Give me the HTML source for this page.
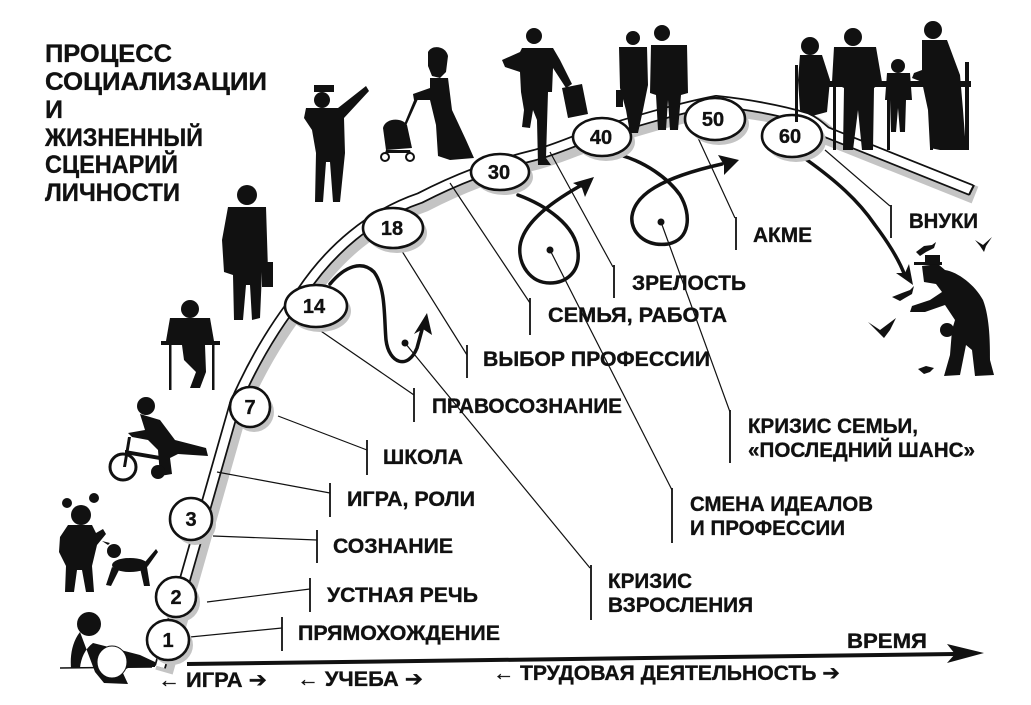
<!DOCTYPE html>
<html><head><meta charset="utf-8"><style>
html,body{margin:0;padding:0;background:#fff;}
svg{display:block;}
text{font-family:"Liberation Sans","DejaVu Sans",sans-serif;font-weight:bold;fill:#111;stroke:#111;stroke-width:0.35;}
</style></head><body>
<svg width="1031" height="705" viewBox="0 0 1031 705" xmlns="http://www.w3.org/2000/svg">
<rect width="1031" height="705" fill="#fff"/>

<!-- Title -->
<g font-size="25">
<text x="45" y="62" textLength="127" lengthAdjust="spacingAndGlyphs">ПРОЦЕСС</text>
<text x="45" y="90" textLength="222" lengthAdjust="spacingAndGlyphs">СОЦИАЛИЗАЦИИ</text>
<text x="45" y="118">И</text>
<text x="45" y="146" textLength="158" lengthAdjust="spacingAndGlyphs">ЖИЗНЕННЫЙ</text>
<text x="45" y="173" textLength="133" lengthAdjust="spacingAndGlyphs">СЦЕНАРИЙ</text>
<text x="45" y="201" textLength="135" lengthAdjust="spacingAndGlyphs">ЛИЧНОСТИ</text>
</g>

<!-- Band shading -->
<path d="M160,667 L235,404 C252,365 275,325 302,292 C330,250 370,215 420,198 C455,180 490,166 535,155 C560,148 575,140 600,132 C640,120 680,108 716,101 C745,104 780,110 806,118 C815,122 820,127 826,132 L971,190" fill="none" stroke="#c4c4c4" stroke-width="18" transform="translate(4,5)"/>
<!-- Band -->
<path d="M160,667 L235,404 C252,365 275,325 302,292 C330,250 370,215 420,198 C455,180 490,166 535,155 C560,148 575,140 600,132 C640,120 680,108 716,101 C745,104 780,110 806,118 C815,122 820,127 826,132 L971,190" fill="none" stroke="#111" stroke-width="12"/>
<path d="M160,667 L235,404 C252,365 275,325 302,292 C330,250 370,215 420,198 C455,180 490,166 535,155 C560,148 575,140 600,132 C640,120 680,108 716,101 C745,104 780,110 806,118 C815,122 820,127 826,132 L971,190" fill="none" stroke="#fff" stroke-width="8.5"/>
<line x1="974" y1="185" x2="969" y2="195" stroke="#111" stroke-width="2"/>

<!-- Time axis -->
<line x1="187" y1="664" x2="955" y2="654" stroke="#111" stroke-width="4"/>
<polygon points="984,653 947,644 955,654 947,663" fill="#111"/>
<line x1="60" y1="668" x2="152" y2="667" stroke="#111" stroke-width="1.5"/>

<!-- Connectors -->
<g stroke="#111" stroke-width="1.2" fill="none">
<line x1="190" y1="637" x2="282" y2="628"/>
<line x1="207" y1="602" x2="310" y2="589"/>
<line x1="213" y1="536" x2="317" y2="540"/>
<line x1="217" y1="472" x2="330" y2="493"/>
<line x1="278" y1="416" x2="367" y2="450"/>
<line x1="315" y1="327" x2="414" y2="395"/>
<line x1="400" y1="248" x2="467" y2="355"/>
<line x1="450" y1="183" x2="530" y2="303"/>
<line x1="550" y1="152" x2="613" y2="267"/>
<line x1="693" y1="127" x2="735" y2="218"/>
<line x1="825" y1="150" x2="890" y2="206"/>
<line x1="405" y1="343" x2="590" y2="568"/>
<line x1="550" y1="250" x2="672" y2="490"/>
<line x1="661" y1="222" x2="730" y2="412"/>
</g>
<g stroke="#111" stroke-width="1.8">
<line x1="282" y1="617" x2="282" y2="651"/>
<line x1="310" y1="578" x2="310" y2="612"/>
<line x1="317" y1="530" x2="317" y2="563"/>
<line x1="330" y1="483" x2="330" y2="517"/>
<line x1="367" y1="440" x2="367" y2="475"/>
<line x1="414" y1="388" x2="414" y2="422"/>
<line x1="467" y1="345" x2="467" y2="378"/>
<line x1="530" y1="298" x2="530" y2="335"/>
<line x1="614" y1="265" x2="614" y2="298"/>
<line x1="736" y1="217" x2="736" y2="250"/>
<line x1="891" y1="205" x2="891" y2="238"/>
<line x1="591" y1="565" x2="591" y2="620"/>
<line x1="672" y1="488" x2="672" y2="543"/>
<line x1="730" y1="410" x2="730" y2="463"/>
</g>

<!-- Loops -->
<g fill="none" stroke="#111" stroke-width="3.5" stroke-linecap="round">
<path d="M330,284 C345,266 362,260 374,272 C386,288 384,318 386,340 C389,364 408,370 417,348 L423,326"/>
<path d="M518,195 C545,205 576,225 578,252 C580,272 566,283 550,283 C530,283 518,264 520,246 C523,224 548,204 580,186"/>
<path d="M620,155 C645,162 668,178 680,195 C692,215 690,240 668,244 C645,247 630,232 632,216 C635,195 660,178 722,164"/>
<path d="M807,160 C835,180 858,200 875,225 C890,245 900,262 905,276"/>
</g>
<g fill="#111">
<polygon points="427,313 414,334 423,329 432,335"/>
<polygon points="594,177 573,183 582,188 585,197"/>
<polygon points="739,160 718,155 724,165 724,175"/>
<polygon points="913,285 896,273 905,273 909,264"/>
<circle cx="405" cy="343" r="3.5"/>
<circle cx="550" cy="250" r="3.5"/>
<circle cx="661" cy="222" r="3.5"/>
</g>

<!-- Ellipse shadows -->
<g fill="#c4c4c4">
<ellipse cx="172" cy="645" rx="21" ry="20"/>
<ellipse cx="180" cy="602" rx="20" ry="20"/>
<ellipse cx="195" cy="524" rx="21" ry="21"/>
<ellipse cx="254" cy="412" rx="20" ry="20"/>
<ellipse cx="320" cy="311" rx="31" ry="21"/>
<ellipse cx="397" cy="233" rx="30" ry="20"/>
<ellipse cx="504" cy="177" rx="29" ry="18"/>
<ellipse cx="606" cy="142" rx="29" ry="19"/>
<ellipse cx="719" cy="124" rx="30" ry="21"/>
<ellipse cx="796" cy="141" rx="30" ry="21"/>
</g>
<g fill="#fff" stroke="#111" stroke-width="2.6">
<ellipse cx="168" cy="640" rx="21" ry="20"/>
<ellipse cx="176" cy="597" rx="20" ry="20"/>
<ellipse cx="191" cy="519" rx="21" ry="21"/>
<ellipse cx="250" cy="407" rx="20" ry="20"/>
<ellipse cx="316" cy="306" rx="31" ry="21"/>
<ellipse cx="393" cy="228" rx="30" ry="20"/>
<ellipse cx="500" cy="172" rx="29" ry="18"/>
<ellipse cx="602" cy="137" rx="29" ry="19"/>
<ellipse cx="715" cy="119" rx="30" ry="21"/>
<ellipse cx="792" cy="136" rx="30" ry="21"/>
</g>
<g font-size="20" text-anchor="middle">
<text x="168" y="647">1</text>
<text x="176" y="604">2</text>
<text x="191" y="526">3</text>
<text x="250" y="414">7</text>
<text x="314" y="313">14</text>
<text x="392" y="235">18</text>
<text x="499" y="179">30</text>
<text x="601" y="144">40</text>
<text x="713" y="126">50</text>
<text x="790" y="143">60</text>
</g>

<!-- Labels -->
<g font-size="21">
<text x="298" y="640" textLength="202" lengthAdjust="spacingAndGlyphs">ПРЯМОХОЖДЕНИЕ</text>
<text x="327" y="602" textLength="151" lengthAdjust="spacingAndGlyphs">УСТНАЯ РЕЧЬ</text>
<text x="333" y="553" textLength="120" lengthAdjust="spacingAndGlyphs">СОЗНАНИЕ</text>
<text x="347" y="506" textLength="128" lengthAdjust="spacingAndGlyphs">ИГРА, РОЛИ</text>
<text x="383" y="464" textLength="80" lengthAdjust="spacingAndGlyphs">ШКОЛА</text>
<text x="432" y="413" textLength="190" lengthAdjust="spacingAndGlyphs">ПРАВОСОЗНАНИЕ</text>
<text x="483" y="366" textLength="227" lengthAdjust="spacingAndGlyphs">ВЫБОР ПРОФЕССИИ</text>
<text x="548" y="322" textLength="179" lengthAdjust="spacingAndGlyphs">СЕМЬЯ, РАБОТА</text>
<text x="632" y="290" textLength="114" lengthAdjust="spacingAndGlyphs">ЗРЕЛОСТЬ</text>
<text x="753" y="242" textLength="59" lengthAdjust="spacingAndGlyphs">АКМЕ</text>
<text x="909" y="228" textLength="69" lengthAdjust="spacingAndGlyphs">ВНУКИ</text>
<text x="748" y="433" textLength="170" lengthAdjust="spacingAndGlyphs">КРИЗИС СЕМЬИ,</text>
<text x="748" y="457" textLength="227" lengthAdjust="spacingAndGlyphs">«ПОСЛЕДНИЙ ШАНС»</text>
<text x="690" y="511" textLength="183" lengthAdjust="spacingAndGlyphs">СМЕНА ИДЕАЛОВ</text>
<text x="690" y="535" textLength="155" lengthAdjust="spacingAndGlyphs">И ПРОФЕССИИ</text>
<text x="608" y="588" textLength="84" lengthAdjust="spacingAndGlyphs">КРИЗИС</text>
<text x="608" y="612" textLength="145" lengthAdjust="spacingAndGlyphs">ВЗРОСЛЕНИЯ</text>
<text x="847" y="648" textLength="80" lengthAdjust="spacingAndGlyphs">ВРЕМЯ</text>
<text x="493" y="680" textLength="347" lengthAdjust="spacingAndGlyphs">← ТРУДОВАЯ ДЕЯТЕЛЬНОСТЬ ➔</text>
<text x="158" y="687" textLength="109" lengthAdjust="spacingAndGlyphs">← ИГРА ➔</text>
<text x="297" y="686" textLength="126" lengthAdjust="spacingAndGlyphs">← УЧЕБА ➔</text>
</g>

<!-- Silhouettes -->
<g fill="#111">
<!-- Baby -->
<circle cx="89" cy="624" r="12"/>
<path d="M80,632 C72,642 70,656 71,668 L80,668 C81,658 85,649 93,643 L140,655 L155,662 L155,667 L130,667 L122,671 L128,684 L104,683 L95,672 Z"/>
<ellipse cx="112" cy="662" rx="15" ry="16" fill="#fff" stroke="#111" stroke-width="1"/>
<!-- Girl -->
<circle cx="81" cy="515" r="10"/>
<circle cx="67" cy="503" r="5"/>
<circle cx="94" cy="498" r="5"/>
<path d="M68,525 L92,525 L96,533 L103,529 L106,534 L97,545 L92,566 L94,592 L86,592 L82,570 L77,570 L74,592 L65,592 L66,566 L59,552 L60,537 Z"/>
<!-- Dog -->
<ellipse cx="130" cy="565" rx="18" ry="7"/>
<circle cx="114" cy="551" r="7"/>
<path d="M108,545 L102,541 L110,543 Z"/>
<path d="M145,562 L156,549 L158,552 L148,566 Z"/>
<path d="M112,567 L106,585 L111,586 L119,570 Z M140,568 L144,586 L150,586 L147,567 Z"/>
<!-- Tricycle kid -->
<circle cx="146" cy="406" r="9"/>
<path d="M140,414 L160,420 L175,440 L206,448 L208,456 L178,454 L170,458 L172,474 L160,476 L158,450 L148,440 L132,437 L128,433 L145,430 Z"/>
<circle cx="123" cy="467" r="13" fill="none" stroke="#111" stroke-width="3"/>
<circle cx="158" cy="472" r="7"/>
<path d="M123,467 L128,437 L131,437 L126,467 Z M125,450 L160,456 L160,460 L125,454 Z"/>
<!-- Seated person at desk -->
<circle cx="190" cy="309" r="9"/>
<path d="M170,318 L210,318 L214,341 L166,341 Z"/>
<rect x="161" y="341" width="59" height="4"/>
<rect x="169" y="344" width="2.5" height="46"/>
<rect x="212" y="344" width="2.5" height="46"/>
<path d="M182,345 L205,345 L206,372 L200,388 L190,388 L196,372 L184,360 Z"/>
<!-- Man with briefcase -->
<circle cx="247" cy="195" r="10"/>
<path d="M228,207 L266,207 L268,270 L262,272 L260,318 L252,320 L250,285 L246,285 L243,320 L234,320 L233,275 L224,272 L222,240 Z"/>
<rect x="262" y="262" width="11" height="25"/>
<!-- Policeman -->
<rect x="314" y="85" width="20" height="7"/>
<circle cx="322" cy="100" r="8"/>
<path d="M312,108 L338,108 L366,86 L369,91 L344,118 L345,153 L340,202 L333,202 L330,162 L326,162 L323,202 L315,202 L316,153 L312,130 L304,118 L306,108 Z"/>
<!-- Woman with stroller -->
<path d="M428,52 C432,44 446,46 448,56 L446,72 L440,78 L432,76 L428,66 Z"/>
<path d="M430,78 L448,78 L452,110 L466,140 L474,158 L450,160 L438,156 L436,125 L430,100 L414,100 L413,94 L430,88 Z"/>
<path d="M415,98 L403,127 L405,128 L418,99 Z"/>
<path d="M383,128 C385,118 402,117 407,125 L412,148 L386,150 Z"/>
<circle cx="385" cy="157" r="4" fill="#fff" stroke="#111" stroke-width="2"/>
<circle cx="410" cy="157" r="4" fill="#fff" stroke="#111" stroke-width="2"/>
<path d="M386,150 L410,150 L411,153 L385,153 Z"/>
<!-- Running businessman -->
<circle cx="534" cy="36" r="8"/>
<path d="M522,48 L553,48 L560,60 L572,84 L566,88 L553,68 L552,92 L548,92 L546,158 L551,165 L538,165 L537,120 L533,110 L530,128 L522,127 L524,110 L521,92 L520,72 L505,67 L502,60 L520,52 Z"/>
<polygon points="562,88 582,84 588,114 568,118"/>
<!-- Couple -->
<circle cx="633" cy="38" r="7"/>
<path d="M619,47 L647,47 L648,85 L643,110 L638,133 L630,133 L626,110 L620,88 Z"/>
<rect x="616" y="90" width="7" height="17"/>
<circle cx="662" cy="33" r="8"/>
<path d="M651,45 L687,45 L688,93 L681,95 L678,130 L670,130 L668,100 L666,130 L658,130 L656,95 L650,93 Z"/>
<!-- Family at table -->
<circle cx="810" cy="46" r="9"/>
<path d="M800,55 L822,55 L830,80 L827,112 L812,116 L800,110 L798,80 Z"/>
<rect x="795" y="65" width="3" height="57"/>
<circle cx="853" cy="37" r="9"/>
<path d="M834,47 L876,47 L882,82 L874,88 L873,150 L862,150 L858,110 L853,150 L843,150 L844,88 L832,82 Z"/>
<rect x="827" y="81" width="144" height="6"/>
<rect x="833" y="86" width="3" height="64"/>
<rect x="887" y="86" width="3" height="64"/>
<rect x="930" y="86" width="3" height="64"/>
<circle cx="898" cy="66" r="7"/>
<path d="M887,73 L910,73 L912,100 L906,100 L905,132 L900,132 L898,108 L896,132 L891,132 L890,100 L885,100 Z"/>
<circle cx="933" cy="30" r="9"/>
<path d="M922,40 L947,40 L960,75 L963,110 L966,150 L940,150 L930,148 L928,110 L922,82 L912,78 L914,73 L922,70 Z"/>
<rect x="965" y="62" width="4" height="88"/>
<!-- Old man feeding birds -->
<rect x="914" y="262" width="28" height="3"/>
<rect x="925" y="255" width="15" height="9"/>
<path d="M922,266 L938,264 L945,270 C958,272 975,285 983,300 C990,318 990,345 990,360 L994,375 L975,376 L972,350 L966,345 L960,375 L944,376 L950,355 L952,330 L955,320 L945,305 L925,312 L910,312 L912,306 L930,300 L942,292 L936,284 L924,282 Z"/>
<circle cx="947" cy="330" r="7"/>
<!-- Birds -->
<path d="M916,252 L924,246 L932,245 L936,242 L934,248 L926,252 L920,256 Z"/>
<path d="M975,240 L983,245 L992,237 L986,246 L984,252 L980,246 Z"/>
<path d="M892,297 L902,293 L910,290 L914,286 L912,294 L905,298 L900,301 Z"/>
<path d="M868,322 L880,330 L888,324 L896,318 L890,330 L884,338 L878,332 Z"/>
<path d="M918,369 L926,366 L934,368 L930,372 L924,374 Z"/>
</g>
</svg>
</body></html>
